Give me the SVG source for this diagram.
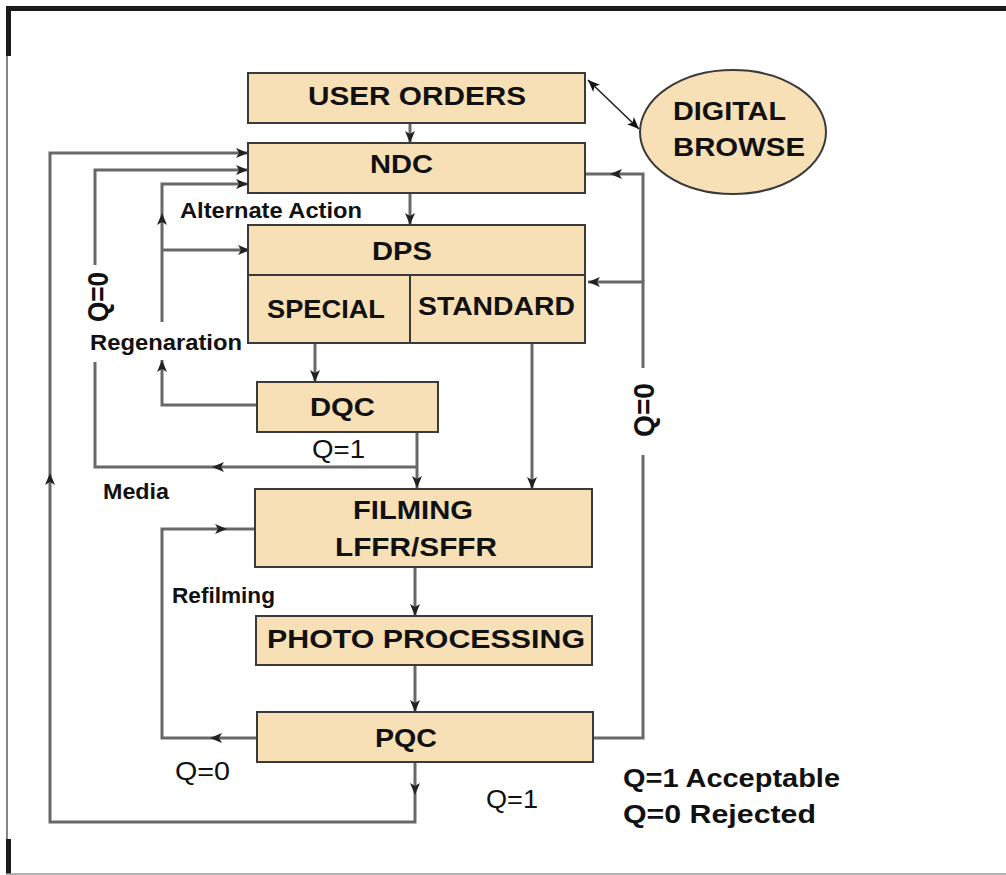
<svg xmlns="http://www.w3.org/2000/svg" width="1006" height="875" viewBox="0 0 1006 875">
<style>
.box{fill:#F8E0B6;stroke:#3a3a3a;stroke-width:2}
.t{font-family:"Liberation Sans",Arial,sans-serif;font-weight:bold;font-size:26px;fill:#111}
.r{font-family:"Liberation Sans",Arial,sans-serif;font-weight:bold;font-size:30px;fill:#111}
.s{font-family:"Liberation Sans",Arial,sans-serif;font-weight:bold;font-size:22px;fill:#111}
.q{font-family:"Liberation Sans",Arial,sans-serif;font-weight:normal;font-size:25px;fill:#111}
.c{fill:none;stroke:#686868;stroke-width:3}
.a{marker-end:url(#ah)}
</style>
<defs>
<marker id="ah" viewBox="0 0 12 10" refX="12" refY="5" markerWidth="12" markerHeight="10" markerUnits="userSpaceOnUse" orient="auto">
<path d="M0,0 L12,5 L0,10 L3,5 z" fill="#222"/>
</marker>
<marker id="ahb" viewBox="0 0 12 10" refX="12" refY="5" markerWidth="12" markerHeight="10" markerUnits="userSpaceOnUse" orient="auto-start-reverse">
<path d="M0,0 L12,5 L0,10 L3,5 z" fill="#111"/>
</marker>
</defs>
<rect width="1006" height="875" fill="#fff"/>
<g id="frame">
<line x1="6" y1="8.5" x2="1006" y2="8.5" stroke="#1a1a1a" stroke-width="5"/>
<line x1="8.5" y1="6" x2="8.5" y2="56" stroke="#1a1a1a" stroke-width="5"/>
<line x1="7" y1="56" x2="7" y2="840" stroke="#333" stroke-width="1.2"/>
<line x1="8.5" y1="839" x2="8.5" y2="874" stroke="#1a1a1a" stroke-width="5"/>
<line x1="6" y1="874" x2="1006" y2="874" stroke="#999" stroke-width="1.5"/>
</g>
<g id="connectors">
<path class="c a" d="M410,123 V143"/>
<path class="c a" d="M410,193 V225"/>
<path d="M588,80 L639,129" fill="none" stroke="#222" stroke-width="1.6" marker-start="url(#ahb)" marker-end="url(#ahb)"/>
<path class="c a" d="M415,762 V795"/>
<path class="c a" d="M415,795 V822 H50 V473"/>
<path class="c a" d="M50,473 V153 H248"/>
<path class="c a" d="M417,432 V488"/>
<path class="c a" d="M417,467 H212"/>
<path class="c" d="M212,467 H95 V362"/>
<path class="c a" d="M95,265 V170 H248"/>
<path class="c a" d="M257,405 H162 V360"/>
<path class="c a" d="M162,322 V213"/>
<path class="c a" d="M162,213 V184 H248"/>
<path class="c a" d="M162,250 H250"/>
<path class="c a" d="M315,343 V382"/>
<path class="c a" d="M532,343 V489"/>
<path class="c a" d="M415,567 V616"/>
<path class="c a" d="M415,665 V712"/>
<path class="c a" d="M257,738 H210"/>
<path class="c a" d="M210,738 H162 V529 H227"/>
<path class="c" d="M227,529 H255"/>
<path class="c" d="M593,738 H643 V455"/>
<path class="c a" d="M643,368 V282 H588"/>
<path class="c a" d="M643,282 V174 H610"/>
<path class="c" d="M610,174 H585"/>
</g>
<g id="user-orders">
<rect class="box" x="248" y="73" width="337" height="50"/>
<text class="t" x="308" y="105" textLength="218" lengthAdjust="spacingAndGlyphs">USER ORDERS</text>
</g>
<g id="digital-browse">
<ellipse class="box" cx="733" cy="132" rx="93" ry="62"/>
<text class="t" x="673" y="120" textLength="113" lengthAdjust="spacingAndGlyphs">DIGITAL</text>
<text class="t" x="673" y="156" textLength="132" lengthAdjust="spacingAndGlyphs">BROWSE</text>
</g>
<g id="ndc">
<rect class="box" x="248" y="143" width="337" height="50"/>
<text class="t" x="370" y="173" textLength="63" lengthAdjust="spacingAndGlyphs">NDC</text>
</g>
<g id="dps">
<rect class="box" x="248" y="225" width="337" height="118"/>
<line x1="248" y1="275" x2="585" y2="275" stroke="#3a3a3a" stroke-width="2"/>
<line x1="410" y1="275" x2="410" y2="343" stroke="#3a3a3a" stroke-width="2"/>
<text class="t" x="372" y="260" textLength="60" lengthAdjust="spacingAndGlyphs">DPS</text>
<text class="t" x="267" y="318" textLength="118" lengthAdjust="spacingAndGlyphs">SPECIAL</text>
<text class="t" x="418" y="315" textLength="157" lengthAdjust="spacingAndGlyphs">STANDARD</text>
</g>
<g id="dqc">
<rect class="box" x="257" y="382" width="181" height="50"/>
<text class="t" x="310" y="416" textLength="65" lengthAdjust="spacingAndGlyphs">DQC</text>
</g>
<g id="filming">
<rect class="box" x="255" y="489" width="337" height="78"/>
<text class="t" x="353" y="519" textLength="120" lengthAdjust="spacingAndGlyphs">FILMING</text>
<text class="t" x="335" y="556" textLength="162" lengthAdjust="spacingAndGlyphs">LFFR/SFFR</text>
</g>
<g id="photo-processing">
<rect class="box" x="256" y="616" width="336" height="49"/>
<text class="t" x="267" y="648" textLength="318" lengthAdjust="spacingAndGlyphs">PHOTO PROCESSING</text>
</g>
<g id="pqc">
<rect class="box" x="257" y="712" width="336" height="50"/>
<text class="t" x="375" y="747" textLength="62" lengthAdjust="spacingAndGlyphs">PQC</text>
</g>
<g id="labels">
<text class="s" x="180" y="218" textLength="182" lengthAdjust="spacingAndGlyphs">Alternate Action</text>
<text class="s" x="90" y="350" textLength="152" lengthAdjust="spacingAndGlyphs">Regenaration</text>
<text class="s" x="103" y="499" textLength="66" lengthAdjust="spacingAndGlyphs">Media</text>
<text class="s" x="172" y="603" textLength="103" lengthAdjust="spacingAndGlyphs">Refilming</text>
<text class="q" x="312" y="458" textLength="53" lengthAdjust="spacingAndGlyphs">Q=1</text>
<text class="q" x="175" y="780" textLength="55" lengthAdjust="spacingAndGlyphs">Q=0</text>
<text class="q" x="486" y="808" textLength="52" lengthAdjust="spacingAndGlyphs">Q=1</text>
<text class="r" x="108" y="297" text-anchor="middle" transform="rotate(-90 108 297)" textLength="50" lengthAdjust="spacingAndGlyphs">Q=0</text>
<text class="r" x="654" y="410" text-anchor="middle" transform="rotate(-90 654 410)" textLength="54" lengthAdjust="spacingAndGlyphs">Q=0</text>
<text class="t" x="623" y="787" textLength="217" lengthAdjust="spacingAndGlyphs">Q=1 Acceptable</text>
<text class="t" x="623" y="823" textLength="193" lengthAdjust="spacingAndGlyphs">Q=0 Rejected</text>
</g>
</svg>
